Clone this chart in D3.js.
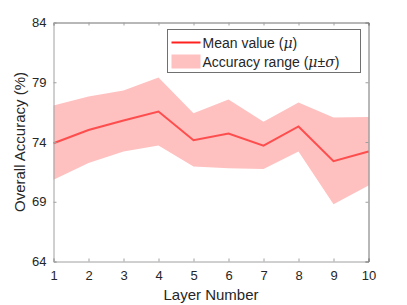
<!DOCTYPE html>
<html>
<head>
<meta charset="utf-8">
<script src="https://cdn.jsdelivr.net/npm/d3@7"></script>
<style>
  body { margin: 0; background: #fff; }
  text { font-family: "Liberation Sans", Arial, sans-serif; fill: #262626; }
</style>
</head>
<body>
<div id="chart"></div>
<script>
// values
const layers = [1, 2, 3, 4, 5, 6, 7, 8, 9, 10];
const meanAcc = [73.9, 75.0, 75.8, 76.55, 74.15, 74.7, 73.7, 75.3, 72.4, 73.2];
const upperAcc = [77.05, 77.8, 78.3, 79.4, 76.4, 77.55, 75.7, 77.3, 76.05, 76.1];
const lowerAcc = [70.85, 72.25, 73.2, 73.7, 71.95, 71.8, 71.75, 73.2, 68.8, 70.35];
const yTicks = [64, 69, 74, 79, 84];

const width = 407, height = 305;
const margin = {top: 22.5, right: 38.5, bottom: 43.5, left: 53.5};
const w = width - margin.left - margin.right;
const h = height - margin.top - margin.bottom;

const svg = d3.select('#chart').append('svg')
    .attr('width', width)
    .attr('height', height);

const chart = svg.append('g')
    .attr('transform', `translate(${margin.left},${margin.top})`);

const x = d3.scaleLinear().domain([1, 10]).range([0, w]);
const y = d3.scaleLinear().domain([64, 84]).range([h, 0]);

const rows = layers.map((l, i) => ({l, m: meanAcc[i], lo: lowerAcc[i], hi: upperAcc[i]}));

// shaded range mu +/- sigma
chart.append('path')
    .datum(rows)
    .attr('fill', '#ffc0c0')
    .attr('d', d3.area().x(d => x(d.l)).y0(d => y(d.lo)).y1(d => y(d.hi)));

// mean line
chart.append('path')
    .datum(rows)
    .attr('fill', 'none')
    .attr('stroke', '#ff4d4d')
    .attr('stroke-width', 2)
    .attr('d', d3.line().x(d => x(d.l)).y(d => y(d.m)));

// axes, ticks pointing inward like matlab
const xAxis = chart.append('g')
    .attr('transform', `translate(0,${h})`)
    .call(d3.axisBottom(x).tickValues(layers).tickSize(-3).tickPadding(9).tickFormat(d3.format('d')));
const xTop = chart.append('g')
    .call(d3.axisTop(x).tickValues(layers).tickSize(-3).tickFormat(''));
const yAxis = chart.append('g')
    .call(d3.axisLeft(y).tickValues(yTicks).tickSize(-3).tickPadding(7));
const yRight = chart.append('g')
    .attr('transform', `translate(${w},0)`)
    .call(d3.axisRight(y).tickValues(yTicks).tickSize(-3).tickFormat(''));

[xAxis, yAxis].forEach(a => {
    a.select('.domain').attr('stroke', '#a0a0a0');
    a.selectAll('.tick line').attr('stroke', '#a0a0a0');
    a.selectAll('.tick text').style('font-size', '13px').attr('fill', '#262626');
});
[xTop, yRight].forEach(a => {
    a.select('.domain').attr('stroke', '#707070');
    a.selectAll('.tick line').attr('stroke', '#a0a0a0');
});

// axis titles
svg.append('text')
    .attr('x', margin.left + w / 2)
    .attr('y', 300)
    .attr('text-anchor', 'middle')
    .style('font-size', '15px')
    .text('Layer Number');

svg.append('text')
    .attr('transform', `translate(25,${margin.top + h / 2}) rotate(-90)`)
    .attr('text-anchor', 'middle')
    .style('font-size', '15px')
    .text('Overall Accuracy (%)');

// legend
const legend = svg.append('g').attr('transform', 'translate(167.5,29.5)');
legend.append('rect')
    .attr('width', 193)
    .attr('height', 43)
    .attr('fill', '#fff')
    .attr('stroke', '#707070');
legend.append('line')
    .attr('x1', 4).attr('x2', 33)
    .attr('y1', 13).attr('y2', 13)
    .attr('stroke', '#ff2020')
    .attr('stroke-width', 2);
legend.append('rect')
    .attr('x', 4).attr('y', 25)
    .attr('width', 29).attr('height', 14)
    .attr('fill', '#ffc0c0');

const t1 = legend.append('text').attr('x', 35).attr('y', 18).style('font-size', '14px');
t1.append('tspan').text('Mean value (');
t1.append('tspan').style('font-style', 'italic').style('font-family', '"DejaVu Serif", serif').text('μ');
t1.append('tspan').text(')');

const t2 = legend.append('text').attr('x', 35).attr('y', 37).style('font-size', '14px');
t2.append('tspan').text('Accuracy range (');
t2.append('tspan').style('font-style', 'italic').style('font-family', '"DejaVu Serif", serif').text('μ');
t2.append('tspan').text('±');
t2.append('tspan').style('font-style', 'italic').style('font-family', '"DejaVu Serif", serif').text('σ');
t2.append('tspan').text(')');
</script>
</body>
</html>
